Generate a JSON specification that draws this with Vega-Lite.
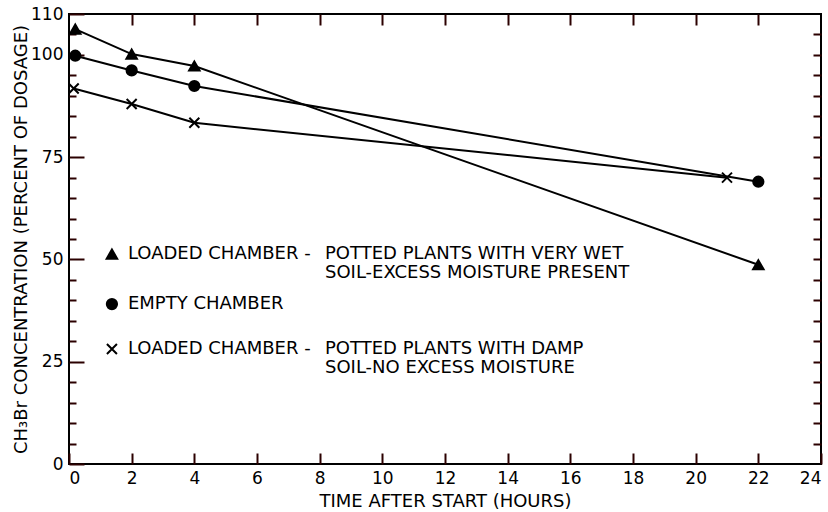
{
  "$schema": "https://vega.github.io/schema/vega-lite/v6.json",
  "width": 752,
  "height": 450,
  "autosize": {"type": "none"},
  "padding": {"left": 69, "top": 14, "right": 7, "bottom": 48},
  "background": "white",
  "config": {
    "font": "DejaVu Sans",
    "view": {"stroke": "black", "strokeWidth": 2},
    "axis": {
      "domain": false,
      "grid": false,
      "labelColor": "black",
      "titleColor": "black",
      "labelFont": "DejaVu Sans",
      "titleFont": "DejaVu Sans",
      "titleFontWeight": "normal",
      "labelFontSize": 17,
      "titleFontSize": 18
    }
  },
  "datasets": {
    "obs": [
      {"series": "wet", "hours": 0.2, "pct": 106.3},
      {"series": "wet", "hours": 2, "pct": 100.2},
      {"series": "wet", "hours": 4, "pct": 97.3},
      {"series": "wet", "hours": 22, "pct": 48.7},
      {"series": "empty", "hours": 0.2, "pct": 99.8},
      {"series": "empty", "hours": 2, "pct": 96.2},
      {"series": "empty", "hours": 4, "pct": 92.4},
      {"series": "empty", "hours": 22, "pct": 69.0},
      {"series": "damp", "hours": 0.15, "pct": 91.8},
      {"series": "damp", "hours": 2, "pct": 88.0},
      {"series": "damp", "hours": 4, "pct": 83.4},
      {"series": "damp", "hours": 21, "pct": 70.0}
    ],
    "keys": [
      {"series": "wet", "hours": 1.37, "pct": 51.3},
      {"series": "empty", "hours": 1.37, "pct": 39.1},
      {"series": "damp", "hours": 1.37, "pct": 28.1}
    ],
    "keytext": [
      {"hours": 1.88, "pct": 51.3, "label": "LOADED CHAMBER -"},
      {"hours": 8.17, "pct": 51.3, "label": "POTTED PLANTS WITH VERY WET"},
      {"hours": 8.17, "pct": 46.6, "label": "SOIL-EXCESS MOISTURE PRESENT"},
      {"hours": 1.88, "pct": 39.1, "label": "EMPTY CHAMBER"},
      {"hours": 1.88, "pct": 28.1, "label": "LOADED CHAMBER -"},
      {"hours": 8.17, "pct": 28.1, "label": "POTTED PLANTS WITH DAMP"},
      {"hours": 8.17, "pct": 23.4, "label": "SOIL-NO EXCESS MOISTURE"}
    ]
  },
  "resolve": {"axis": {"x": "independent", "y": "independent"}},
  "layer": [
    {
      "data": {"name": "obs"},
      "mark": {"type": "line", "color": "black", "strokeWidth": 2},
      "encoding": {
        "x": {
          "field": "hours", "type": "quantitative",
          "scale": {"domain": [0, 24], "nice": false, "zero": false},
          "axis": {"orient": "bottom", "values": [0, 2, 4, 6, 8, 10, 12, 14, 16, 18, 20, 22, 24], "ticks": true, "tickSize": -11, "tickColor": "#2b0000", "tickWidth": 2, "labelPadding": 17, "title": "TIME AFTER START (HOURS)", "titlePadding": 6}
        },
        "y": {
          "field": "pct", "type": "quantitative",
          "scale": {"domain": [0, 110], "nice": false, "zero": false},
          "axis": {"orient": "left", "values": [0, 25, 50, 75, 100, 110], "ticks": true, "tickSize": -15, "tickColor": "#2b0000", "tickWidth": 2, "labelPadding": 21, "title": "CH₃Br CONCENTRATION (PERCENT OF DOSAGE)", "titlePadding": 0}
        },
        "detail": {"field": "series"},
        "order": {"field": "hours"}
      }
    },
    {
      "data": {"name": "obs"},
      "mark": {"type": "point", "filled": true, "color": "black", "stroke": "black", "strokeWidth": 2, "opacity": 1},
      "encoding": {
        "x": {
          "field": "hours", "type": "quantitative",
          "scale": {"domain": [0, 24], "nice": false, "zero": false},
          "axis": {"orient": "top", "values": [2, 4, 6, 8, 10, 12, 14, 16, 18, 20, 22], "labels": false, "ticks": true, "tickColor": "#2b0000", "tickWidth": 2, "tickSize": -11, "title": null}
        },
        "y": {
          "field": "pct", "type": "quantitative",
          "scale": {"domain": [0, 110], "nice": false, "zero": false},
          "axis": {"orient": "right", "values": [5, 10, 15, 20, 25, 30, 35, 40, 45, 50, 55, 60, 65, 70, 75, 80, 85, 90, 95, 100, 105], "labels": false, "ticks": true, "tickColor": "#2b0000", "tickWidth": 2, "tickSize": -8, "title": null}
        },
        "shape": {
          "field": "series", "type": "nominal",
          "scale": {"domain": ["wet", "empty", "damp"], "range": ["triangle-up", "circle", "M-1,-1L1,1M-1,1L1,-1"]},
          "legend": null
        },
        "size": {
          "field": "series", "type": "nominal",
          "scale": {"domain": ["wet", "empty", "damp"], "range": [110, 100, 90]},
          "legend": null
        }
      }
    },
    {
      "data": {"name": "keys"},
      "mark": {"type": "point", "filled": true, "color": "black", "stroke": "black", "strokeWidth": 2, "opacity": 1},
      "encoding": {
        "x": {"field": "hours", "type": "quantitative", "scale": {"domain": [0, 24], "nice": false, "zero": false}, "axis": null},
        "y": {
          "field": "pct", "type": "quantitative",
          "scale": {"domain": [0, 110], "nice": false, "zero": false},
          "axis": {"orient": "left", "values": [5, 10, 15, 20, 30, 35, 40, 45, 55, 60, 65, 70, 80, 85, 90, 95, 105], "labels": false, "ticks": true, "tickColor": "#2b0000", "tickWidth": 2, "tickSize": -7, "title": null}
        },
        "shape": {
          "field": "series", "type": "nominal",
          "scale": {"domain": ["wet", "empty", "damp"], "range": ["triangle-up", "circle", "M-1,-1L1,1M-1,1L1,-1"]},
          "legend": null
        },
        "size": {
          "field": "series", "type": "nominal",
          "scale": {"domain": ["wet", "empty", "damp"], "range": [110, 100, 70]},
          "legend": null
        }
      }
    },
    {
      "data": {"name": "keytext"},
      "mark": {"type": "text", "align": "left", "baseline": "middle", "font": "DejaVu Sans", "fontSize": 18, "color": "black"},
      "encoding": {
        "x": {"field": "hours", "type": "quantitative", "scale": {"domain": [0, 24], "nice": false, "zero": false}, "axis": null},
        "y": {"field": "pct", "type": "quantitative", "scale": {"domain": [0, 110], "nice": false, "zero": false}, "axis": null},
        "text": {"field": "label"}
      }
    }
  ]
}
